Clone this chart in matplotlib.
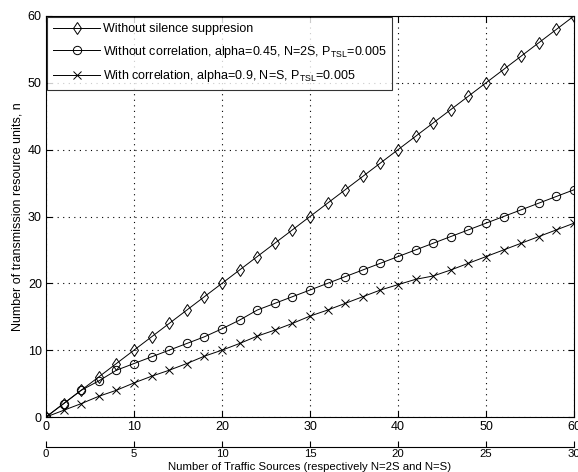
import matplotlib
matplotlib.use('Agg')
import matplotlib.pyplot as plt
import numpy as np

plt.rcParams['font.family'] = ['Liberation Sans', 'DejaVu Sans']
plt.rcParams['mathtext.fontset'] = 'custom'
plt.rcParams['mathtext.rm'] = 'Liberation Sans'
plt.rcParams['mathtext.it'] = 'Liberation Sans'

# x values on the main (N) axis
n_sources = np.arange(0, 61, 2)
# series values
no_silence = [0, 2, 4, 6, 8, 10, 12, 14, 16, 18, 20, 22, 24, 26, 28, 30,
              32, 34, 36, 38, 40, 42, 44, 46, 48, 50, 52, 54, 56, 58, 60]
no_corr = [0, 2, 4, 5.4, 7, 8, 9, 10, 11, 12, 13.2, 14.5, 16, 17, 18, 19,
           20, 21, 22, 23, 24, 25, 26, 27, 28, 29, 30, 31, 32, 33, 34]
with_corr = [0, 1, 2, 3.1, 4, 5.1, 6.1, 7, 8, 9.1, 10, 11, 12.1, 13, 14, 15.1,
             16, 17, 18, 19, 19.8, 20.6, 21.1, 22, 23, 24, 25, 26, 27, 28, 29]

labels = ['Without silence suppresion',
          'Without correlation, alpha=0.45, N=2S, P$_{\\mathrm{TSL}}$=0.005',
          'With correlation, alpha=0.9, N=S, P$_{\\mathrm{TSL}}$=0.005']

fs = 9
fs_bottom = 8.2
fig = plt.figure(figsize=(5.78, 4.72), dpi=100)
ax = fig.add_axes([46/578, 1-417/472, 528/578, 401/472])

ax.plot(n_sources, no_silence, 'k-', marker='d', ms=6.5, mfc='none', lw=0.7, mew=0.7, label=labels[0])
ax.plot(n_sources, no_corr, 'k-', marker='o', ms=6, mfc='none', lw=0.7, mew=0.7, label=labels[1])
ax.plot(n_sources, with_corr, 'k-', marker='x', ms=5.5, lw=0.7, mew=0.7, label=labels[2])

ax.set_xlim(0, 60)
ax.set_ylim(0, 60)
ax.set_xticks(range(0, 61, 10))
ax.set_yticks(range(0, 61, 10))
ax.grid(True, color='k', linestyle=(0, (1, 4)), linewidth=0.8)
ax.tick_params(direction='in', top=True, right=True, labelsize=fs, length=4, pad=3)
ax.set_ylabel('Number of transmission resource units, n', fontsize=fs, labelpad=3)

leg = ax.legend(loc='upper left', fontsize=fs, frameon=True, fancybox=False,
                edgecolor='k', borderaxespad=0.1, handlelength=3.8, labelspacing=0.7,
                borderpad=0.45, handletextpad=0.2)
leg.get_frame().set_linewidth(0.8)

# second x axis for S
ax2 = ax.secondary_xaxis(-0.074, functions=(lambda x: x / 2, lambda x: x * 2))
ax2.set_xticks(range(0, 31, 5))
ax2.tick_params(direction='in', labelsize=fs_bottom, length=4, pad=1.5)
fig.text((46 + 264) / 578, 2.5 / 472, 'Number of Traffic Sources (respectively N=2S and N=S)',
         fontsize=fs_bottom, ha='center', va='baseline')

fig.savefig('out.png', dpi=100)
